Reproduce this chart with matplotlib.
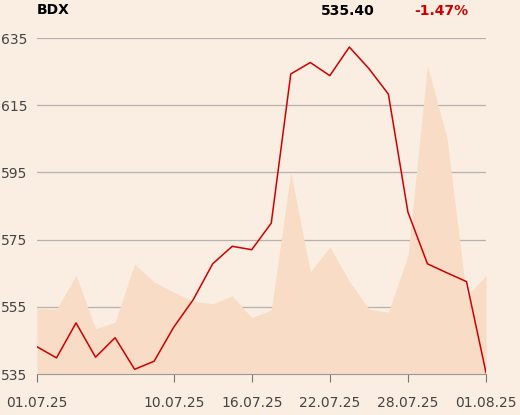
import matplotlib
matplotlib.use("Agg")
import matplotlib.pyplot as plt

dates = ["01.07.25", "02.07.25", "03.07.25", "04.07.25", "07.07.25", "08.07.25",
         "09.07.25", "10.07.25", "11.07.25", "14.07.25", "15.07.25", "16.07.25",
         "17.07.25", "18.07.25", "21.07.25", "22.07.25", "23.07.25", "24.07.25",
         "25.07.25", "28.07.25", "29.07.25", "30.07.25", "31.07.25", "01.08.25"]
price = [543.1, 539.8, 550.2, 540.0, 545.8, 536.4, 538.8, 548.9, 557.1, 567.8,
         573.0, 572.0, 579.9, 624.3, 627.7, 623.8, 632.3, 625.9, 618.3, 583.2,
         567.8, 565.1, 562.5, 535.4]
volume_band = [554.5, 554.3, 564.3, 548.5, 550.4, 567.7, 562.4, 559.4, 556.6, 555.9,
               558.2, 551.8, 554.0, 595.0, 565.4, 572.8, 562.6, 554.3, 553.4, 570.2,
               626.8, 605.2, 558.1, 564.3]
tick_labels = ["01.07.25", "10.07.25", "16.07.25", "22.07.25", "28.07.25", "01.08.25"]
y_ticks = [535, 555, 575, 595, 615, 635]
ticker = "BDX"
last_price = "535.40"
change = "-1.47%"

bg = "#FAEDE1"
fig = plt.figure(figsize=(5.2, 4.15), dpi=100, facecolor=bg)
ax = fig.add_axes([37/520, 41/415, 449/520, (374-38)/415], facecolor=bg)

x = list(range(len(dates)))
ax.fill_between(x, 535, volume_band, color="#F8DCC6", lw=0, zorder=1)
ax.plot(x, price, color="#D10000", lw=1.1, zorder=3)

ax.set_xlim(0, len(dates) - 1)
ax.set_ylim(535, 635)
ax.set_yticks(y_ticks)
ax.set_yticklabels([str(v) for v in y_ticks])
ax.yaxis.grid(True, color="#B5B3B1", lw=0.9, zorder=0)
ax.set_axisbelow(True)
tick_pos = [dates.index(t) for t in tick_labels]
ax.set_xticks(tick_pos)
ax.set_xticklabels(tick_labels)

for s in ["top", "right", "left"]:
    ax.spines[s].set_visible(False)
ax.spines["bottom"].set_color("#999999")
ax.tick_params(axis="y", length=0, pad=7, labelsize=10, labelcolor="#444444")
ax.tick_params(axis="x", length=6, color="#777777", pad=10, labelsize=10, labelcolor="#444444")

fig.text(37/520, 1 - 10/415, ticker, fontsize=10, fontweight="bold", color="black", va="center", ha="left")
fig.text(375/520, 1 - 11/415, last_price, fontsize=10, fontweight="bold", color="black", va="center", ha="right")
fig.text(468/520, 1 - 11/415, change, fontsize=10, fontweight="bold", color="#D10000", va="center", ha="right")

fig.savefig("out.png", dpi=100, facecolor=bg)
